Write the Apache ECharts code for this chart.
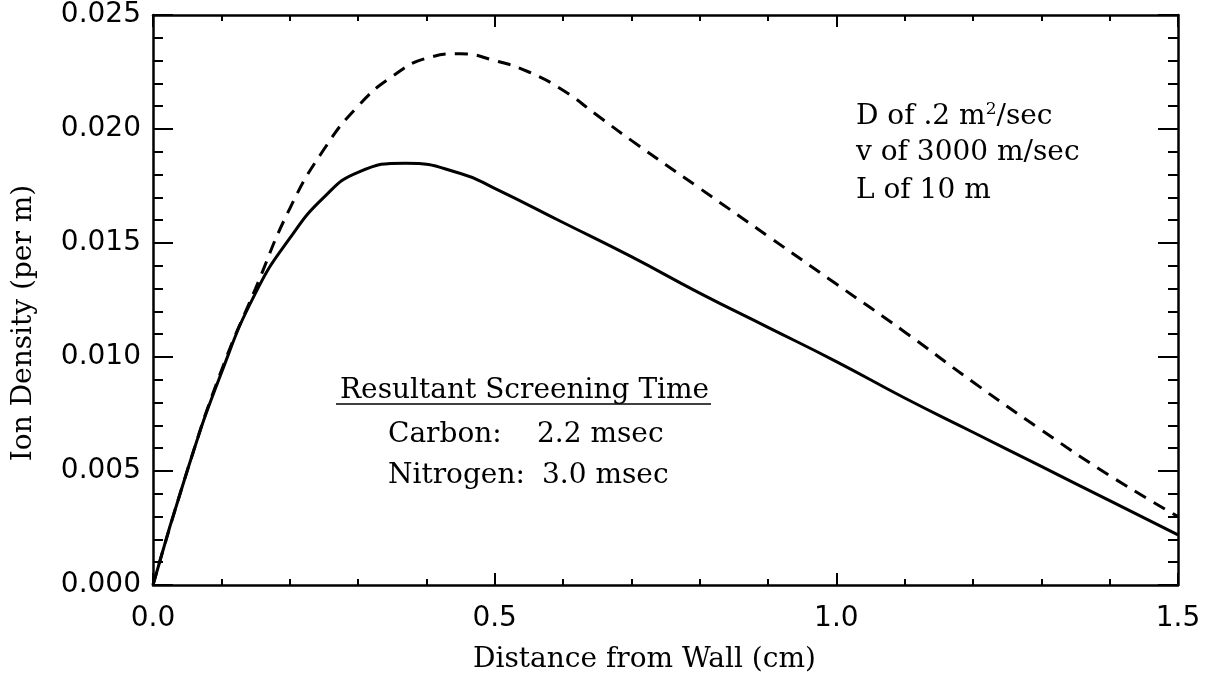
<!DOCTYPE html>
<html>
<head>
<meta charset="utf-8">
<script src="https://cdn.jsdelivr.net/npm/echarts@6/dist/echarts.min.js"></script>
<style>
  html, body { margin: 0; padding: 0; background: #fff; }
  #container { width: 1206px; height: 681px; }
</style>
</head>
<body>
<div id="container"></div>
<script>
// solid curve: distance from wall (cm) and ion density (per m)
var solidX = [0, 0.05, 0.1, 0.15, 0.2, 0.25, 0.3, 0.37, 0.45, 0.5, 0.6, 0.7, 0.8, 0.9, 1.0,
    1.1, 1.2, 1.3, 1.4, 1.5];
var solidY = [0, 0.0050, 0.0093, 0.0128, 0.0152, 0.0170, 0.0181, 0.0185, 0.01805, 0.0174, 0.0159,
    0.0144, 0.0128, 0.0113, 0.0098, 0.0082, 0.0067, 0.0052, 0.0037, 0.0022];
// dashed curve: distance from wall (cm) and ion density (per m)
var dashedX = [0, 0.05, 0.1, 0.15, 0.2, 0.25, 0.3, 0.35, 0.4, 0.45, 0.5, 0.55, 0.6, 0.65, 0.7,
    0.8, 0.9, 1.0, 1.1, 1.2, 1.3, 1.4, 1.5];
var dashedY = [0, 0.0050, 0.0094, 0.0130, 0.0165, 0.0191, 0.0210, 0.0223, 0.0231, 0.0233, 0.0230,
    0.0225, 0.0217, 0.0206, 0.0195, 0.0174, 0.0153, 0.0132, 0.0111, 0.0089, 0.0068, 0.0048, 0.0030];

var xTitle = 'Distance from Wall (cm)';
var yTitle = 'Ion Density (per m)';

var myChart = echarts.init(document.getElementById('container'));

function pairs(xs, ys) {
    return xs.map(function (x, i) { return [x, ys[i]]; });
}

var serif = 'DejaVu Serif';
var sans = 'DejaVu Sans';
var black = '#000';

function xAxisDef(pos, labels) {
    return {
        type: 'value',
        position: pos,
        min: 0,
        max: 1.5,
        interval: 0.5,
        name: labels ? xTitle : '',
        nameLocation: 'middle',
        nameGap: 61,
        nameTextStyle: { fontFamily: serif, fontSize: 28, color: black, padding: [0, 42, 0, 0] },
        axisLine: { show: true, onZero: false, lineStyle: { color: black, width: 2.5 } },
        axisTick: { show: true, inside: true, length: 12, lineStyle: { color: black, width: 2 } },
        minorTick: { show: true, splitNumber: 5, length: 6, lineStyle: { color: black, width: 2 } },
        splitLine: { show: false },
        axisLabel: {
            show: labels,
            margin: 20,
            fontFamily: sans,
            fontSize: 28,
            color: black,
            formatter: function (v) { return v.toFixed(1); }
        }
    };
}

function yAxisDef(pos, labels) {
    return {
        type: 'value',
        position: pos,
        min: 0,
        max: 0.025,
        interval: 0.005,
        name: labels ? yTitle : '',
        nameLocation: 'middle',
        nameGap: 115,
        nameTextStyle: { fontFamily: serif, fontSize: 28, color: black, padding: [0, 46, 0, 0] },
        axisLine: { show: true, onZero: false, lineStyle: { color: black, width: 2.5 } },
        axisTick: { show: true, inside: true, length: 20, lineStyle: { color: black, width: 2 } },
        minorTick: { show: true, splitNumber: 5, length: 10, lineStyle: { color: black, width: 2 } },
        splitLine: { show: false },
        axisLabel: {
            show: labels,
            margin: 12,
            fontFamily: sans,
            fontSize: 28,
            color: black,
            formatter: function (v) { return v.toFixed(3); }
        }
    };
}

function note(text, x, baseline) {
    return {
        type: 'text',
        x: x,
        y: baseline,
        style: {
            text: text,
            fill: black,
            font: '28px "' + serif + '"',
            verticalAlign: 'bottom'
        }
    };
}

var option = {
    backgroundColor: '#fff',
    animation: false,
    grid: { left: 153, top: 15, right: 28, bottom: 96, containLabel: false },
    xAxis: [xAxisDef('bottom', true), xAxisDef('top', false)],
    yAxis: [yAxisDef('left', true), yAxisDef('right', false)],
    series: [
        {
            name: 'solid',
            type: 'line',
            xAxisIndex: 0,
            yAxisIndex: 0,
            data: pairs(solidX, solidY),
            smooth: 0.5,
            symbol: 'none',
            lineStyle: { color: black, width: 3 }
        },
        {
            name: 'dashed',
            type: 'line',
            xAxisIndex: 0,
            yAxisIndex: 0,
            data: pairs(dashedX, dashedY),
            smooth: 0.5,
            symbol: 'none',
            lineStyle: { color: black, width: 3, type: [13, 9] }
        }
    ],
    graphic: [
        {
            type: 'text',
            x: 856,
            y: 132,
            style: {
                text: '{a|D of .2 m}{s|2}{a|/sec}',
                fill: black,
                verticalAlign: 'bottom',
                rich: {
                    a: { fontFamily: serif, fontSize: 28, color: black },
                    s: { fontFamily: serif, fontSize: 17, color: black, padding: [0, 0, 14, 0] }
                }
            }
        },
        note('v of 3000 m/sec', 856, 167),
        note('L of 10 m', 856, 205),
        note('Resultant Screening Time', 340, 405),
        {
            type: 'line',
            shape: { x1: 336, y1: 404, x2: 711, y2: 404 },
            style: { stroke: black, lineWidth: 1.5 }
        },
        note('Carbon:', 388, 449),
        note('2.2 msec', 537, 449),
        note('Nitrogen:', 388, 490),
        note('3.0 msec', 542, 490)
    ]
};

myChart.setOption(option);
</script>
</body>
</html>
